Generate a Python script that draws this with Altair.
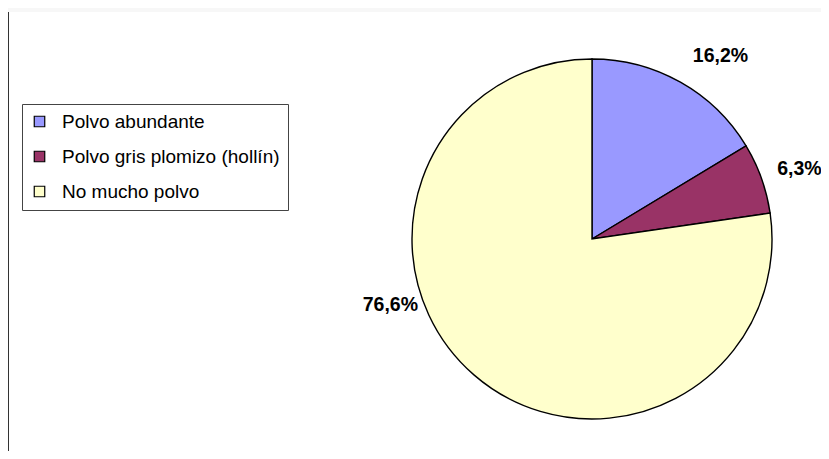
import altair as alt
import pandas as pd

categories = ["Polvo abundante", "Polvo gris plomizo (hollín)", "No mucho polvo"]
values = [16.2, 6.3, 76.6]
labels = ["16,2%", "6,3%", "76,6%"]
colors = ["#9999FF", "#993366", "#FFFFCC"]
# label placement (polar, degrees clockwise from 12 o'clock, pixels from centre)
label_angle = [35, 71.3, 252]
label_radius = [224, 219, 212]

df = pd.DataFrame({
    "cat": categories,
    "val": values,
    "lab": labels,
    "ord": list(range(len(categories))),
    "la": label_angle,
    "lr": label_radius,
})

W, H = 813, 443
CX, CY, R = 584, 231, 180
FONT = "Liberation Sans"

base = alt.Chart(df)

pie = base.mark_arc(radius=R, stroke="black", strokeWidth=1.4).encode(
    x=alt.value(CX),
    y=alt.value(CY),
    theta=alt.Theta("val:Q", stack=True),
    order=alt.Order("ord:Q"),
    color=alt.Color(
        "cat:N",
        scale=alt.Scale(domain=categories, range=colors),
        sort=categories,
        legend=alt.Legend(
            title=None,
            orient="none",
            legendX=14,
            legendY=96,
            direction="vertical",
            symbolType="square",
            symbolSize=110,
            symbolStrokeColor="black",
            symbolStrokeWidth=1.2,
            symbolOpacity=1,
            labelFont=FONT,
            labelFontSize=19,
            labelColor="black",
            labelOffset=13,
            labelLimit=400,
            labelExpr="datum.label + '\u00a0\u00a0'",
            rowPadding=15,
            padding=8,
            strokeColor="#444444",
            fillColor="white",
        ),
    ),
)

text = base.mark_text(
    font=FONT, fontSize=19.5, fontWeight="bold", color="black",
    align="center", baseline="middle",
).encode(
    x=alt.value(CX),
    y=alt.value(CY),
    theta=alt.Theta("la:Q", stack=False,
                    scale=alt.Scale(domain=[0, 360], range=[0, 6.283185307])),
    radius=alt.Radius("lr:Q", scale=None),
    text="lab:N",
)

one = pd.DataFrame({"a": [0]})
band = alt.Chart(one).mark_rect(color="#f7f7f7").encode(
    x=alt.value(0), x2=alt.value(W), y=alt.value(0), y2=alt.value(4)
)

vline = alt.Chart(one).mark_rule(
    color="#333333", strokeWidth=2
).encode(x=alt.value(0), y=alt.value(4), y2=alt.value(H))

chart = alt.layer(band, vline, pie, text).resolve_scale(
    theta="independent"
).properties(
    width=W, height=H, padding=0,
    autosize=alt.AutoSizeParams(type="none"),
).configure_view(stroke=None)

chart.save("out.html", embed_options={"renderer": "svg", "actions": False})
